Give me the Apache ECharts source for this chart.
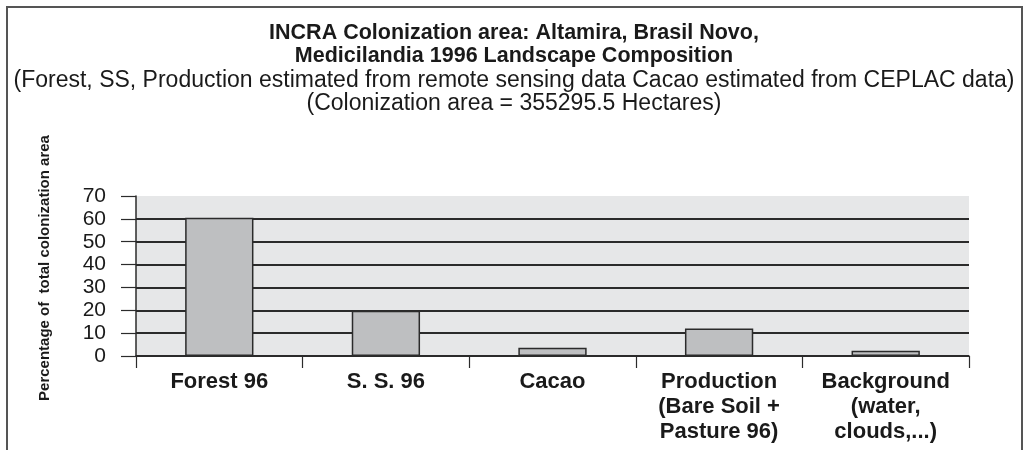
<!DOCTYPE html>
<html>
<head>
<meta charset="utf-8">
<script src="https://cdn.jsdelivr.net/npm/echarts@6/dist/echarts.min.js"></script>
<style>
html,body{margin:0;padding:0;background:#fff;}
#chart{width:1028px;height:450px;}
</style>
</head>
<body>
<div id="chart"></div>
<script>
var categories = ['Forest 96', 'S. S. 96', 'Cacao', 'Production\n(Bare Soil +\nPasture 96)', 'Background\n(water,\nclouds,...)'];
var values = [60.5, 19.8, 3.6, 12, 2.3];
var yTicks = [0, 10, 20, 30, 40, 50, 60, 70];
var titleLines = ['INCRA Colonization area: Altamira, Brasil Novo,', 'Medicilandia 1996 Landscape Composition'];
var subLines = ['(Forest, SS, Production estimated from remote sensing data Cacao estimated from CEPLAC data)', '(Colonization area = 355295.5 Hectares)'];
var yName = 'Percentage of  total colonization area';

var FONT = '"Liberation Sans", Arial, Helvetica, sans-serif';
var dark = '#2b2b2b';
var gridColors = yTicks.map(function (t, i) { return i === yTicks.length - 1 ? 'rgba(0,0,0,0)' : dark; });

var chart = echarts.init(document.getElementById('chart'), null, {renderer: 'canvas'});
chart.setOption({
  animation: false,
  backgroundColor: '#ffffff',
  graphic: [{
    type: 'rect',
    shape: {x: 7, y: 7, width: 1015, height: 460},
    style: {fill: 'none', stroke: '#555', lineWidth: 2},
    z: -10
  }],
  title: {
    text: titleLines.join('\n'),
    subtext: subLines.join('\n'),
    left: 'center',
    top: 17,
    itemGap: 1,
    textStyle: {fontFamily: FONT, fontWeight: 'bold', fontSize: 21.5, lineHeight: 23, color: '#1a1a1a'},
    subtextStyle: {fontFamily: FONT, fontWeight: 'normal', fontSize: 23, lineHeight: 23, color: '#1a1a1a'}
  },
  grid: {
    left: 136, right: 59, top: 196, bottom: 94,
    show: true, backgroundColor: '#e6e7e8', borderWidth: 0
  },
  xAxis: {
    type: 'category',
    data: categories,
    axisLine: {show: true, lineStyle: {color: dark, width: 1.5}},
    axisTick: {show: true, length: 12, lineStyle: {color: dark, width: 1.2}},
    axisLabel: {
      fontFamily: FONT, fontWeight: 'bold', fontSize: 22, lineHeight: 25,
      color: '#1a1a1a', margin: 13, interval: 0
    },
    splitLine: {show: false}
  },
  yAxis: {
    type: 'value',
    min: 0, max: 70, interval: 10,
    name: yName,
    nameLocation: 'middle',
    nameRotate: 90,
    nameGap: 84,
    nameTextStyle: {fontFamily: FONT, fontWeight: 'bold', fontSize: 15, color: '#1a1a1a', padding: [0, 0, 0, 16]},
    axisLine: {show: true, lineStyle: {color: dark, width: 1.5}},
    axisTick: {show: true, inside: false, length: 15, lineStyle: {color: dark, width: 1.2}},
    axisLabel: {fontFamily: FONT, fontSize: 21, color: '#1a1a1a', margin: 30},
    splitLine: {show: true, lineStyle: {color: gridColors, width: 1.8}}
  },
  series: [{
    type: 'bar',
    data: values,
    barWidth: '41%',
    itemStyle: {color: '#bebfc1', borderColor: dark, borderWidth: 1.5},
    z: 3
  }]
});
</script>
</body>
</html>
